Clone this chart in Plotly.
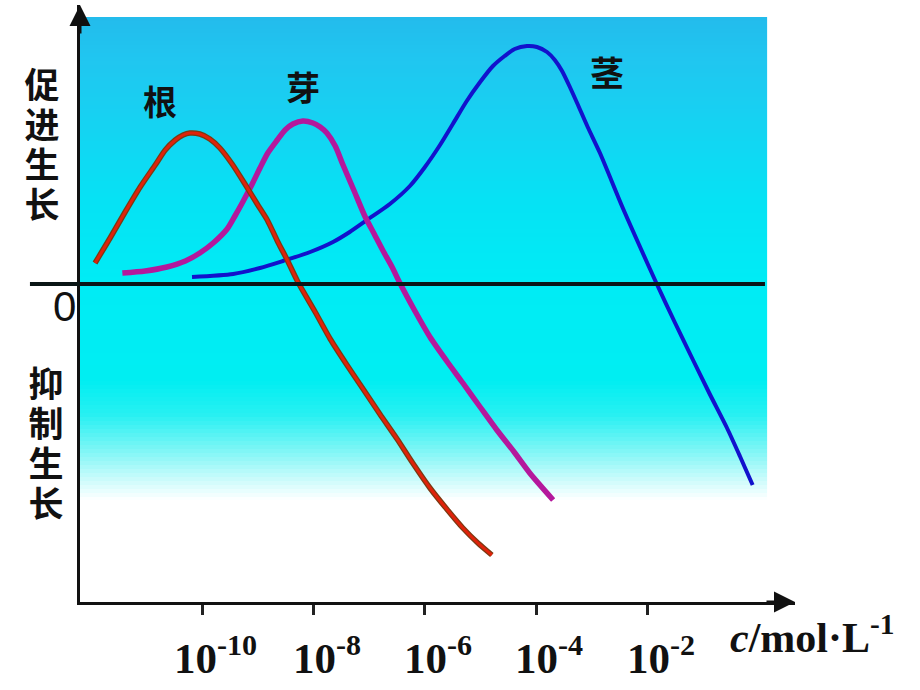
import plotly.graph_objects as go

# ---- data (log10 of concentration in mol/L, growth effect in arbitrary units) ----
root_logc = [-11.92, -11.65, -11.38, -11.11, -10.84, -10.66, -10.48, -10.34, -10.22, -10.04, -9.86,
             -9.68, -9.46, -9.23, -9.01, -8.83, -8.64, -8.48, -8.28, -7.97, -7.70, -7.40, -7.11,
             -6.81, -6.50, -6.22, -5.91, -5.61, -5.32, -5.05, -4.80]
root_eff = [0.21, 0.46, 0.72, 0.97, 1.19, 1.34, 1.44, 1.49, 1.51, 1.50, 1.45,
            1.36, 1.20, 1.00, 0.80, 0.64, 0.42, 0.25, 0.02, -0.28, -0.55, -0.81, -1.05,
            -1.30, -1.55, -1.79, -2.04, -2.25, -2.44, -2.59, -2.71]

bud_logc = [-11.43, -11.02, -10.63, -10.30, -10.04, -9.80, -9.55, -9.41, -9.26, -9.10, -8.96,
            -8.82, -8.65, -8.51, -8.37, -8.19, -8.01, -7.88, -7.76, -7.61, -7.47, -7.27, -7.08,
            -6.91, -6.75, -6.59, -6.45, -6.18, -5.91, -5.61, -5.32, -5.01, -4.71, -4.40, -4.12, -3.70]
bud_eff = [0.11, 0.13, 0.17, 0.23, 0.31, 0.41, 0.55, 0.68, 0.83, 1.00, 1.16,
           1.31, 1.44, 1.54, 1.60, 1.63, 1.61, 1.57, 1.51, 1.38, 1.19, 0.93, 0.68,
           0.50, 0.33, 0.17, 0.01, -0.27, -0.53, -0.77, -0.99, -1.23, -1.46, -1.68, -1.89, -2.16]

stem_logc = [-10.18, -9.44, -8.96, -8.55, -8.06, -7.65, -7.35, -7.04, -6.63, -6.27, -6.00,
             -5.73, -5.50, -5.25, -5.01, -4.78, -4.57, -4.39, -4.17, -3.99, -3.81, -3.67, -3.54,
             -3.40, -3.27, -3.08, -2.86, -2.45, -2.14, -1.84, -1.52, -1.19, -0.89, -0.58, -0.35, -0.12]
stem_eff = [0.07, 0.10, 0.16, 0.23, 0.32, 0.42, 0.52, 0.64, 0.80, 0.98, 1.17,
            1.39, 1.60, 1.83, 2.02, 2.18, 2.28, 2.35, 2.38, 2.37, 2.32, 2.24, 2.13,
            1.97, 1.81, 1.57, 1.31, 0.76, 0.37, 0.00, -0.38, -0.76, -1.10, -1.44, -1.72, -2.01]

tick_exps = [-10, -8, -6, -4, -2]
tick_labels = ["10<sup>-10</sup>", "10<sup>-8</sup>", "10<sup>-6</sup>", "10<sup>-4</sup>", "10<sup>-2</sup>"]

curve_names = ["根", "芽", "茎"]
curve_label_pos = [(-10.75, 1.84), (-8.19, 1.98), (-2.74, 2.13)]

X_RANGE = [-12.19, 0.64]
Y_RANGE = [-3.18, 2.79]

fig = go.Figure()

# gradient background (decorative bands)
stops = [(17, (35, 188, 236)), (60, (32, 198, 240)), (120, (22, 210, 242)), (200, (6, 226, 244)),
         (280, (0, 236, 245)), (380, (0, 238, 242)), (415, (40, 240, 242)), (452, (130, 246, 246)),
         (482, (210, 252, 252)), (500, (255, 255, 255))]
top_px, bot_px = 5, 602
def py2paper(p):
    return (bot_px - p) / (bot_px - top_px)
def color_at(p):
    for (a, ca), (b, cb) in zip(stops[:-1], stops[1:]):
        if a <= p <= b:
            t = (p - a) / (b - a)
            return tuple(int(round(ca[i] + (cb[i] - ca[i]) * t)) for i in range(3))
    return stops[-1][1]
p = 17
step = 4
while p < 500:
    c = color_at(p + step / 2)
    fig.add_shape(type="rect", xref="paper", yref="paper", x0=0, x1=0.961,
                  y0=py2paper(min(p + step, 500)), y1=py2paper(p),
                  fillcolor=f"rgb{c}", line=dict(width=0), layer="below")
    p += step

def tr(logc, eff, color, width):
    return go.Scatter(x=[10 ** v for v in logc], y=eff, mode="lines",
                      line=dict(color=color, width=width, shape="spline", smoothing=0.7),
                      hoverinfo="skip", showlegend=False)

fig.add_trace(tr(stem_logc, stem_eff, "#1212cc", 4))
fig.add_trace(tr(bud_logc, bud_eff, "#b4189c", 5.5))
fig.add_trace(tr(root_logc, root_eff, "#7a3a12", 5.5))
fig.add_trace(tr(root_logc, root_eff, "#e0220a", 3))

# zero line
fig.add_shape(type="line", xref="paper", yref="y", x0=-0.07, x1=0.958, y0=0, y1=0,
              line=dict(color="#0a1616", width=4))

cjk = "Noto Sans CJK SC"
def ann(**kw):
    fig.add_annotation(showarrow=False, xanchor="center", yanchor="middle", **kw)

for name, (lx, ly) in zip(curve_names, curve_label_pos):
    ann(x=lx, y=ly, xref="x", yref="y", text=f"<b>{name}</b>",
        font=dict(family=cjk, size=34, color="#111"))

for i, ch in enumerate("促进生长"):
    ann(x=(42 - 80) / 715, y=py2paper(82 + 40 * i), xref="paper", yref="paper",
        text=f"<b>{ch}</b>", height=38, width=40,
        font=dict(family=cjk, size=35, color="#111"))
for i, ch in enumerate("抑制生长"):
    ann(x=(46 - 80) / 715, y=py2paper(381 + 40 * i), xref="paper", yref="paper",
        text=f"<b>{ch}</b>", height=38, width=40,
        font=dict(family=cjk, size=35, color="#111"))

ann(x=(64 - 80) / 715, y=py2paper(306), xref="paper", yref="paper", text="0",
    font=dict(family="Liberation Sans", size=42, color="#111"))

for e, lab in zip(tick_exps, tick_labels):
    ann(x=e, y=py2paper(655), xref="x", yref="paper", text=f"<b>{lab}</b>", xshift=13,
        font=dict(family="Liberation Serif", size=43, color="#111"))

ann(x=(812 - 80) / 715, y=py2paper(634), xref="paper", yref="paper",
    text="<b><i>c</i>/mol·L<sup>-1</sup></b>",
    font=dict(family="Liberation Serif", size=42, color="#111"))

# axis arrowheads
fig.add_annotation(x=1.0, y=0, xref="paper", yref="paper", ax=-30, ay=0, text="", showarrow=True,
                   arrowhead=2, arrowsize=1.4, arrowwidth=3, arrowcolor="#111", font=dict(size=10))
fig.add_annotation(x=0, y=1.0, xref="paper", yref="paper", ax=0, ay=30, text="", showarrow=True,
                   arrowhead=2, arrowsize=1.4, arrowwidth=3, arrowcolor="#111", font=dict(size=10))

fig.update_xaxes(type="log", range=X_RANGE, showgrid=False, zeroline=False,
                 showline=True, linecolor="#111", linewidth=3,
                 tickvals=[10 ** e for e in tick_exps], ticks="outside", ticklen=10, tickwidth=3,
                 tickcolor="#222", showticklabels=False)
fig.update_yaxes(range=Y_RANGE, showgrid=False, zeroline=False, showline=True, linecolor="#111",
                 linewidth=3, ticks="", showticklabels=False)

fig.update_layout(width=920, height=690, margin=dict(l=80, r=125, t=5, b=88, autoexpand=False),
                  plot_bgcolor="white", paper_bgcolor="white", showlegend=False)

fig.write_html("out.html", config={"displayModeBar": False},
               post_script="document.body.style.margin='0';document.body.style.overflow='hidden';")
